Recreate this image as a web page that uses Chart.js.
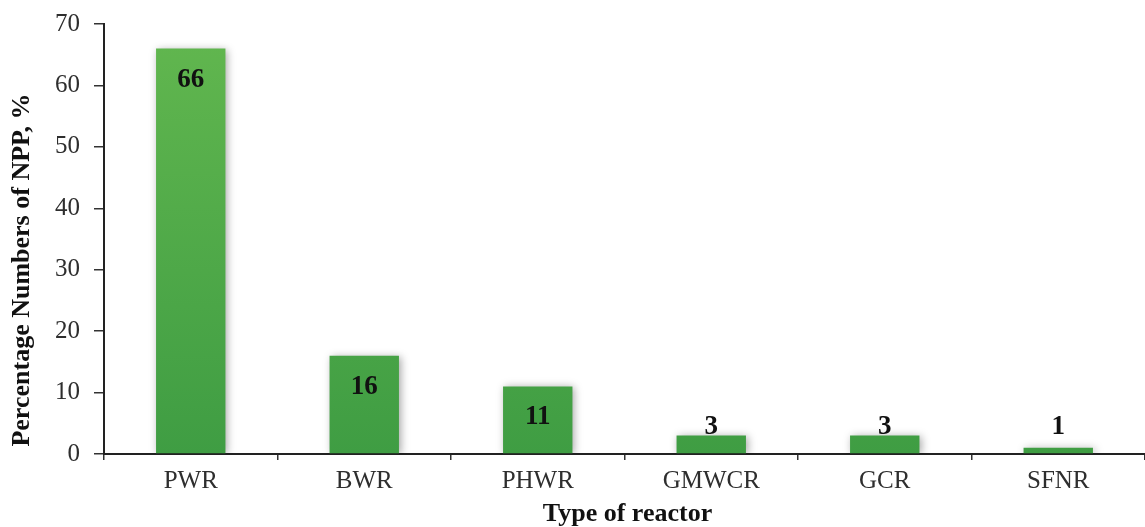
<!DOCTYPE html>
<html>
<head>
<meta charset="utf-8">
<script src="https://cdn.jsdelivr.net/npm/chart.js@4/dist/chart.umd.min.js"></script>
<style>
  html, body { margin: 0; padding: 0; background: #ffffff; }
  #wrap { width: 1145px; height: 527px; position: relative; }
</style>
</head>
<body>
<div id="wrap"><canvas id="chart"></canvas></div>
<script>
// Reactor types and their share of nuclear power plants (%)
const reactorTypes = ['PWR', 'BWR', 'PHWR', 'GMWCR', 'GCR', 'SFNR'];
const sharePercent = [66, 16, 11, 3, 3, 1];
const yTicks = [0, 10, 20, 30, 40, 50, 60, 70];

const xTitle = 'Type of reactor';
const yTitle = 'Percentage Numbers of NPP, %';

const serif = '"Liberation Serif", "Times New Roman", serif';

// Soft drop shadow behind the bars
const barShadow = {
  id: 'barShadow',
  beforeDatasetsDraw(chart) {
    const ctx = chart.ctx;
    ctx.save();
    ctx.shadowColor = 'rgba(0,0,0,0.35)';
    ctx.shadowBlur = 8;
    ctx.shadowOffsetX = 2;
    ctx.shadowOffsetY = 1;
  },
  afterDatasetsDraw(chart) {
    chart.ctx.restore();
  }
};

// Value labels: inside the top of tall bars, just above the short ones
const valueLabels = {
  id: 'valueLabels',
  afterDatasetsDraw(chart) {
    const ctx = chart.ctx;
    const meta = chart.getDatasetMeta(0);
    const base = chart.scales.y.getPixelForValue(0);
    ctx.save();
    ctx.shadowColor = 'transparent';
    ctx.font = 'bold 27px ' + serif;
    ctx.fillStyle = '#111111';
    ctx.textAlign = 'center';
    ctx.textBaseline = 'middle';
    meta.data.forEach((bar, i) => {
      const y = Math.min(bar.y + 31, base - 27);
      ctx.fillText(String(sharePercent[i]), bar.x, y);
    });
    ctx.restore();
  }
};

// Axis titles
const axisTitles = {
  id: 'axisTitles',
  afterDraw(chart) {
    const ctx = chart.ctx;
    const area = chart.chartArea;
    ctx.save();
    ctx.font = 'bold 26px ' + serif;
    ctx.fillStyle = '#111111';
    ctx.textAlign = 'center';
    ctx.textBaseline = 'middle';
    ctx.fillText(xTitle, (area.left + area.right) / 2 + 3, 514);
    ctx.translate(22, 270);
    ctx.rotate(-Math.PI / 2);
    ctx.fillText(yTitle, 0, 0);
    ctx.restore();
  }
};

function barGradient(context) {
  const chart = context.chart;
  const area = chart.chartArea;
  if (!area) return '#4caf48';
  const el = context.element;
  const top = el && el.y !== undefined ? el.y : area.top;
  const bottom = chart.scales.y.getPixelForValue(0);
  if (!isFinite(top) || bottom - top < 1) return '#4caf48';
  const g = chart.ctx.createLinearGradient(0, top, 0, bottom);
  g.addColorStop(0, '#62b74f');
  g.addColorStop(1, '#3f9d43');
  return g;
}

new Chart(document.getElementById('chart'), {
  type: 'bar',
  data: {
    labels: reactorTypes,
    datasets: [{
      data: sharePercent,
      backgroundColor: barGradient,
      borderWidth: 0,
      barPercentage: 0.4,
      categoryPercentage: 1.0
    }]
  },
  plugins: [barShadow, valueLabels, axisTitles],
  options: {
    responsive: true,
    maintainAspectRatio: false,
    animation: false,
    layout: { padding: { top: 24, right: 0, left: 0, bottom: 0 } },
    plugins: {
      legend: { display: false },
      tooltip: { enabled: false }
    },
    scales: {
      x: {
        grid: {
          display: true,
          drawOnChartArea: false,
          offset: true,
          color: '#333333',
          tickLength: 6,
          lineWidth: 1.5
        },
        border: { display: true, color: '#222222', width: 2 },
        ticks: {
          color: '#2e2e2e',
          font: { family: serif, size: 25 },
          padding: 6,
          maxRotation: 0
        },
        afterFit(scale) {
          scale.height = 73;
          scale.paddingLeft = 0;
          scale.paddingRight = 0;
        }
      },
      y: {
        min: 0,
        max: 70,
        afterBuildTicks(scale) { scale.ticks = yTicks.map(v => ({ value: v })); },
        grid: {
          display: true,
          drawOnChartArea: false,
          color: '#333333',
          tickLength: 10,
          lineWidth: 1.5
        },
        border: { display: true, color: '#222222', width: 2 },
        ticks: {
          color: '#2e2e2e',
          font: { family: serif, size: 25 },
          padding: 14
        },
        afterFit(scale) {
          scale.width = 104;
          scale.paddingTop = 0;
          scale.paddingBottom = 0;
        }
      }
    }
  }
});
</script>
</body>
</html>
